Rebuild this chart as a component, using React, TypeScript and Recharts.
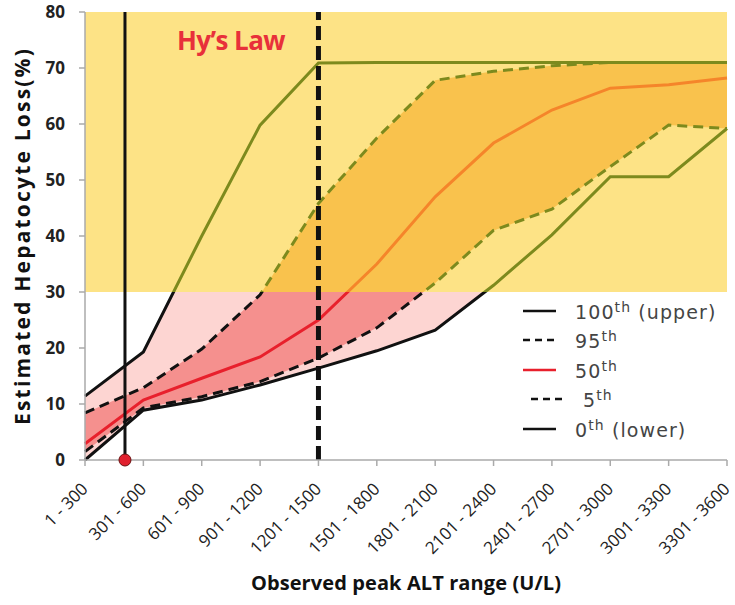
import React from 'react';
import {
  ComposedChart, Area, Line, XAxis, YAxis, ReferenceArea, ReferenceLine,
  ReferenceDot, Label,
} from 'recharts';

const categories = [
  '1 - 300', '301 - 600', '601 - 900', '901 - 1200', '1201 - 1500', '1501 - 1800',
  '1801 - 2100', '2101 - 2400', '2401 - 2700', '2701 - 3000', '3001 - 3300', '3301 - 3600',
];
const p100 = [11.4, 19.3, 40, 59.8, 70.9, 71, 71, 71, 71, 71, 71, 71];
const p95 = [8.4, 12.9, 19.8, 29.5, 45.8, 57.5, 67.8, 69.4, 70.4, 71, 71, 71];
const p50 = [2.9, 10.7, 14.6, 18.4, 25, 35, 47, 56.6, 62.5, 66.4, 67, 68.2];
const p5 = [1.5, 9.3, 11.3, 14, 18.2, 23.6, 31.6, 41, 44.8, 52.4, 59.8, 59.2];
const p0 = [0, 8.9, 10.7, 13.4, 16.4, 19.5, 23.2, 31.2, 40.2, 50.6, 50.6, 59.2];

const yTicks = [0, 10, 20, 30, 40, 50, 60, 70, 80];
const hysLawLimit = 30; // % loss where the Hy's Law zone starts
const hysLawX = 0.685; // position of the solid marker between 1st and 2nd range
const dashedMarkerX = 4;

const data = categories.map((c, i) => ({
  idx: i,
  range: c,
  p100: p100[i],
  p95: p95[i],
  p50: p50[i],
  p5: p5[i],
  p0: p0[i],
}));

const YELLOW = '#fde386';
const ORANGE = '#f9c24d';
const PINK_LIGHT = '#fdd5d2';
const PINK_DARK = '#f5908e';
const OLIVE = '#7d8a1d';
const RED = '#e8202c';
const ORANGE_LINE = '#f5852a';

// split a gradient at the hys law limit, using the series' own extent
const splitGrad = (id: string, values: number[], above: string, below: string) => {
  const max = Math.max(...values);
  const min = Math.min(...values);
  const off = (max - hysLawLimit) / (max - min);
  return (
    <linearGradient id={id} x1="0" y1="0" x2="0" y2="1">
      <stop offset={off} stopColor={above} />
      <stop offset={off} stopColor={below} />
    </linearGradient>
  );
};

const XTick = (props: any) => {
  const { x, y, payload } = props;
  const ax = x + 4;
  const ay = y + 22;
  return (
    <text
      x={ax}
      y={ay}
      textAnchor="end"
      transform={`rotate(-45 ${ax} ${ay})`}
      fontFamily="Open Sans"
      fontSize={17}
      fill="#222"
    >
      {categories[payload.value]}
    </text>
  );
};

const legendItems = [
  { num: '100', rest: ' (upper)', color: '#111', dash: false, indent: 0 },
  { num: '95', rest: '', color: '#111', dash: true, indent: 0 },
  { num: '50', rest: '', color: RED, dash: false, indent: 0 },
  { num: '5', rest: '', color: '#111', dash: true, indent: 8 },
  { num: '0', rest: ' (lower)', color: '#111', dash: false, indent: 0 },
];

const LegendBox = () => (
  <div
    style={{
      position: 'absolute',
      left: 523,
      top: 296,
      fontFamily: 'DejaVu Sans',
      fontSize: 19,
      letterSpacing: 1.1,
      color: '#444',
      lineHeight: 1,
    }}
  >
    {legendItems.map((it) => (
      <div key={it.num} style={{ display: 'flex', alignItems: 'center', height: 29.5 }}>
        <svg width={52} height={10} style={{ marginLeft: it.indent, flex: 'none' }}>
          <line
            x1={0}
            x2={33}
            y1={5}
            y2={5}
            stroke={it.color}
            strokeWidth={2.5}
            strokeDasharray={it.dash ? '7 5' : undefined}
          />
        </svg>
        <span style={{ whiteSpace: 'nowrap' }}>
          {it.num}
          <sup style={{ fontSize: 14 }}>th</sup>
          {it.rest}
        </span>
      </div>
    ))}
  </div>
);

const YLabel = (props: any) => {
  const { viewBox } = props;
  const cx = 22;
  const cy = viewBox.y + viewBox.height / 2;
  return (
    <text
      x={cx}
      y={cy}
      textAnchor="middle"
      dominantBaseline="central"
      transform={`rotate(-90 ${cx} ${cy})`}
      fontFamily="Open Sans"
      fontWeight="bold"
      fontSize={21}
      letterSpacing={2.2}
      fill="#111"
    >
      Estimated Hepatocyte Loss(%)
    </text>
  );
};

const XLabel = (props: any) => {
  const { viewBox } = props;
  const cx = viewBox.x + viewBox.width / 2;
  return (
    <text
      x={cx}
      y={590}
      textAnchor="middle"
      fontFamily="Open Sans"
      fontWeight="bold"
      fontSize={20}
      letterSpacing={0.1}
      fill="#111"
    >
      Observed peak ALT range (U/L)
    </text>
  );
};

const HysLabel = (props: any) => {
  const { viewBox } = props;
  return (
    <text
      x={viewBox.x + 146}
      y={viewBox.y + 38}
      textAnchor="middle"
      fontFamily="Open Sans"
      fontWeight="bold"
      fontSize={26}
      letterSpacing={-0.6}
      fill="#e8303a"
    >
      Hy’s Law
    </text>
  );
};

export default function App() {
  return (
    <div style={{ position: 'absolute', left: 0, top: 0, width: 735, height: 605, background: '#fff' }}>
      <ComposedChart
        width={735}
        height={605}
        data={data}
        margin={{ top: 12, right: 8, left: 0, bottom: 0 }}
      >
        <defs>
          {splitGrad('bandOuter', [...p100, ...p0], YELLOW, PINK_LIGHT)}
          {splitGrad('bandInner', [...p95, ...p5], ORANGE, PINK_DARK)}
          {splitGrad('l100', p100, OLIVE, '#111')}
          {splitGrad('l95', p95, OLIVE, '#111')}
          {splitGrad('l50', p50, ORANGE_LINE, RED)}
          {splitGrad('l5', p5, OLIVE, '#111')}
          {splitGrad('l0', p0, OLIVE, '#111')}
        </defs>
        <XAxis
          type="number"
          dataKey="idx"
          domain={[0, 11]}
          ticks={categories.map((_, i) => i)}
          interval={0}
          height={145}
          tick={<XTick />}
          tickSize={6}
          axisLine={{ stroke: '#aaa', strokeWidth: 1.5 }}
          tickLine={{ stroke: '#aaa', strokeWidth: 1.5 }}
        >
          <Label content={<XLabel />} />
        </XAxis>
        <YAxis
          type="number"
          domain={[0, 80]}
          ticks={yTicks}
          interval={0}
          width={85}
          tickSize={6}
          tickMargin={14}
          tick={{ fontFamily: 'Open Sans', fontWeight: 'bold', fontSize: 17, fill: '#222' }}
          axisLine={{ stroke: '#aaa', strokeWidth: 1.5 }}
          tickLine={{ stroke: '#aaa', strokeWidth: 1.5 }}
        >
          <Label content={<YLabel />} />
        </YAxis>
        <ReferenceArea x1={0} x2={11} y1={hysLawLimit} y2={80} fill={YELLOW} fillOpacity={1} stroke="none">
          <Label content={<HysLabel />} />
        </ReferenceArea>
        <Area
          type="linear"
          dataKey={(d: any) => [d.p0, d.p100]}
          fill="url(#bandOuter)"
          fillOpacity={1}
          stroke="none"
          isAnimationActive={false}
          dot={false}
          activeDot={false}
        />
        <Area
          type="linear"
          dataKey={(d: any) => [d.p5, d.p95]}
          fill="url(#bandInner)"
          fillOpacity={1}
          stroke="none"
          isAnimationActive={false}
          dot={false}
          activeDot={false}
        />
        <Line type="linear" dataKey="p0" stroke="url(#l0)" strokeWidth={3} dot={false} isAnimationActive={false} />
        <Line type="linear" dataKey="p5" stroke="url(#l5)" strokeWidth={3} strokeDasharray="10 6" dot={false} isAnimationActive={false} />
        <Line type="linear" dataKey="p50" stroke="url(#l50)" strokeWidth={3} dot={false} isAnimationActive={false} />
        <Line type="linear" dataKey="p95" stroke="url(#l95)" strokeWidth={3} strokeDasharray="10 6" dot={false} isAnimationActive={false} />
        <Line type="linear" dataKey="p100" stroke="url(#l100)" strokeWidth={3} dot={false} isAnimationActive={false} />
        <ReferenceLine x={hysLawX} stroke="#111" strokeWidth={3} />
        <ReferenceLine x={dashedMarkerX} stroke="#111" strokeWidth={5} strokeDasharray="14 6" />
        <ReferenceDot x={hysLawX} y={0} r={6} fill="#e0202e" stroke="#6a1010" strokeWidth={1} ifOverflow="visible" />
      </ComposedChart>
      <LegendBox />
    </div>
  );
}
